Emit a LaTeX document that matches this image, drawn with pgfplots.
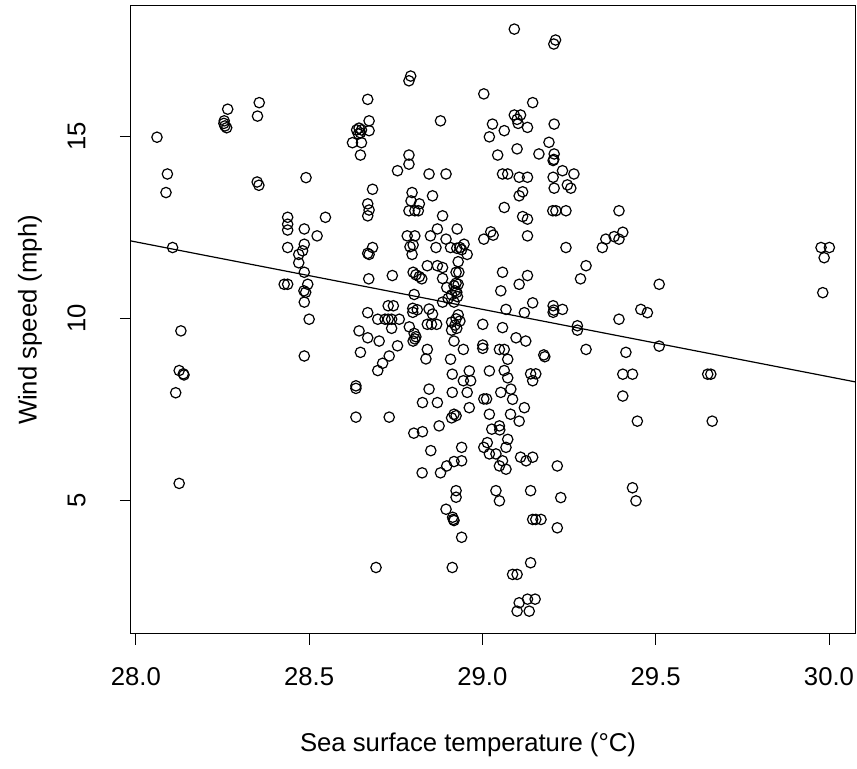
\documentclass[border=0pt]{standalone}
\usepackage{fontspec}
\setmainfont{Liberation Sans}
\usepackage{pgfplots}
\pgfplotsset{compat=1.18}

\begin{document}
\fontsize{12.85}{15}\selectfont
\begin{tikzpicture}
\begin{axis}[
  name=ax,
  scale only axis, width=362pt, height=314pt,
  xmin=27.986, xmax=30.075, ymin=1.333, ymax=18.585,
  axis line style={line width=0.5pt},
  xtick={28,28.5,29,29.5,30}, xticklabels={28.0,28.5,29.0,29.5,30.0},
  ytick={5,10,15}, yticklabels={5,10,15},
  xtick pos=left, ytick pos=left,
  tick align=outside, major tick length=5.5pt,
  tick style={black, line width=0.5pt},
  tick label style={font=\fontsize{12.85}{15}\selectfont},
  xticklabel style={anchor=north, inner sep=0pt},
  xticklabel shift=10.9pt,
  yticklabel style={rotate=90, anchor=south, inner sep=0pt},
  yticklabel shift=17pt,
  xlabel={Sea surface temperature (°C)},
  ylabel={Wind speed (mph)},
  every axis x label/.style={at={(axis description cs:0.4655,-0.1768)}, anchor=center},
  every axis y label/.style={at={(axis description cs:-0.1395,0.5)}, rotate=90, anchor=center},
  label style={font=\fontsize{12.85}{15}\selectfont},
]
\addplot[only marks, mark=o, mark size=2.6pt, mark options={line width=0.6pt, black}] table {
x y
28.061 14.98
28.091 13.97
28.087 13.46
28.265 15.75
28.255 15.43
28.254 15.36
28.257 15.29
28.262 15.24
28.356 15.93
28.351 15.56
28.350 13.75
28.355 13.66
28.491 13.87
28.438 12.78
28.547 12.78
28.106 11.95
28.130 9.66
28.125 8.57
28.137 8.48
28.139 8.45
28.115 7.96
28.438 12.59
28.438 12.43
28.438 11.95
28.486 12.46
28.523 12.27
28.486 12.04
28.481 11.86
28.470 11.76
28.470 11.53
28.486 11.27
28.496 10.94
28.428 10.94
28.438 10.94
28.485 10.76
28.490 10.72
28.486 10.45
28.500 9.98
28.486 8.97
28.125 5.47
28.793 16.66
28.788 16.53
28.669 16.02
28.879 15.43
28.673 15.43
28.644 15.23
28.648 15.10
28.637 15.18
28.651 15.18
28.673 15.16
28.642 15.07
28.625 14.83
28.651 14.83
28.648 14.49
28.788 14.49
28.788 14.24
28.755 14.06
28.846 13.97
28.895 13.97
28.683 13.55
28.797 13.46
28.856 13.37
28.669 13.15
28.673 12.98
28.669 12.82
28.794 13.23
28.818 13.15
28.788 12.96
28.805 12.96
28.815 12.96
28.885 12.82
29.092 17.95
29.211 17.65
29.206 17.54
29.004 16.17
29.145 15.93
29.092 15.59
29.110 15.59
29.100 15.47
29.103 15.36
29.029 15.34
29.063 15.16
29.020 14.99
29.130 15.25
29.207 15.34
29.192 14.84
29.100 14.66
29.044 14.49
29.163 14.52
29.207 14.52
29.206 14.37
29.204 14.34
29.231 14.06
29.264 13.97
29.058 13.97
29.073 13.97
29.106 13.88
29.130 13.88
29.204 13.88
29.245 13.67
29.255 13.58
29.207 13.58
29.116 13.48
29.106 13.37
29.063 13.05
29.203 12.96
29.212 12.96
29.241 12.96
29.116 12.80
29.130 12.73
29.394 12.96
28.927 12.46
28.870 12.46
28.783 12.27
28.805 12.27
28.850 12.27
28.895 12.18
28.791 11.97
28.800 12.02
28.866 11.95
28.908 11.95
28.926 11.93
28.935 11.95
28.940 11.89
28.683 11.95
28.669 11.79
28.673 11.76
28.797 11.76
28.930 11.56
28.841 11.45
28.870 11.45
28.885 11.40
28.800 11.27
28.808 11.20
28.818 11.15
28.825 11.09
28.924 11.27
28.932 11.27
28.885 11.10
28.672 11.09
28.740 11.18
28.924 10.97
28.930 10.94
28.918 10.90
28.897 10.85
28.921 10.76
28.926 10.72
28.911 10.65
28.803 10.66
28.885 10.45
28.901 10.55
28.918 10.45
28.928 10.60
28.728 10.35
28.743 10.35
28.799 10.28
28.812 10.24
28.799 10.17
28.846 10.26
28.669 10.16
28.856 10.12
28.698 9.98
28.719 9.98
28.728 9.98
28.738 9.98
28.760 9.98
28.841 9.84
28.853 9.84
28.868 9.84
28.930 10.10
28.924 9.99
28.935 9.93
28.911 9.90
28.921 9.82
28.738 9.73
28.789 9.77
28.911 9.68
28.926 9.73
28.644 9.66
28.803 9.59
28.808 9.50
28.800 9.38
28.805 9.44
28.669 9.47
28.702 9.38
28.918 9.38
28.755 9.25
28.648 9.07
28.841 9.15
28.731 8.97
28.837 8.89
28.908 8.88
28.712 8.77
28.698 8.57
28.913 8.47
28.635 8.15
28.635 8.08
28.846 8.06
28.913 7.97
28.827 7.69
28.870 7.69
28.635 7.29
28.731 7.29
28.918 7.37
28.924 7.33
28.911 7.27
28.875 7.05
28.827 6.89
28.802 6.85
29.024 12.38
29.031 12.29
29.004 12.18
29.130 12.27
29.241 11.95
28.947 12.04
28.956 11.76
29.299 11.45
29.283 11.09
29.058 11.27
29.130 11.18
29.106 10.94
29.053 10.76
29.145 10.43
29.121 10.16
29.068 10.25
29.204 10.35
29.206 10.23
29.204 10.17
29.231 10.25
29.274 9.80
29.274 9.68
29.001 9.84
29.058 9.75
29.097 9.47
29.125 9.38
28.945 9.15
29.001 9.27
29.001 9.18
29.049 9.15
29.063 9.15
29.073 8.88
29.177 9.00
29.180 8.95
29.299 9.15
28.962 8.56
29.020 8.56
29.063 8.57
29.073 8.37
29.139 8.48
29.154 8.48
29.145 8.29
28.945 8.29
28.966 8.29
28.956 7.97
29.053 7.97
29.082 8.06
29.087 7.78
29.004 7.79
29.012 7.79
28.962 7.55
29.121 7.55
29.020 7.37
29.081 7.37
29.106 7.18
29.027 6.96
29.049 7.05
29.050 6.94
29.346 11.95
29.356 12.18
29.380 12.25
29.394 12.18
29.405 12.37
29.510 10.94
29.457 10.25
29.476 10.16
29.394 9.98
29.510 9.24
29.414 9.07
29.405 8.47
29.433 8.47
29.650 8.47
29.659 8.47
29.405 7.87
29.447 7.18
29.663 7.18
29.977 11.95
30.001 11.95
29.986 11.67
29.982 10.71
28.851 6.37
28.826 5.76
28.879 5.76
28.897 5.95
28.918 6.07
28.940 6.09
28.940 6.46
28.924 5.27
28.924 5.09
28.895 4.76
28.914 4.54
28.916 4.48
28.918 4.45
28.940 3.99
28.693 3.16
28.913 3.16
29.073 6.68
29.014 6.59
29.004 6.46
29.020 6.28
29.039 6.28
29.068 6.46
29.058 6.09
29.049 5.95
29.068 5.86
29.110 6.19
29.126 6.09
29.145 6.19
29.216 5.95
29.039 5.27
29.049 4.99
29.139 5.27
29.226 5.08
29.145 4.48
29.154 4.48
29.169 4.48
29.216 4.25
29.139 3.29
29.087 2.97
29.100 2.97
29.106 2.19
29.130 2.29
29.152 2.29
29.100 1.96
29.135 1.96
29.433 5.35
29.443 4.99
};
\addplot[black, line width=0.6pt] coordinates {(27.986,12.13) (30.075,8.26)};
\end{axis}
\path ([shift={(-65.5pt,-67.5pt)}]ax.south west) rectangle ([shift={(1pt,3pt)}]ax.north east);
\end{tikzpicture}
\end{document}
